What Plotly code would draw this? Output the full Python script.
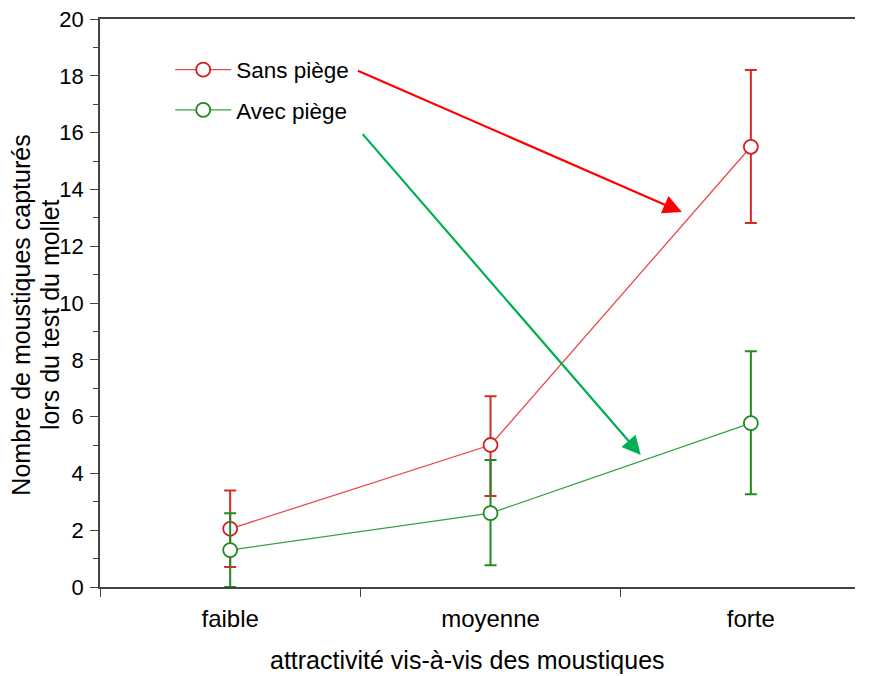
import plotly.graph_objects as go

categories = ["faible", "moyenne", "forte"]
sans_piege = [2.05, 5.0, 15.5]
sans_err_plus = [1.35, 1.72, 2.7]
sans_err_minus = [1.35, 1.8, 2.68]
avec_piege = [1.3, 2.6, 5.77]
avec_err_plus = [1.3, 1.87, 2.53]
avec_err_minus = [1.3, 1.83, 2.5]

y_title_lines = ["Nombre de moustiques capturés", "lors du test du mollet"]
x_title = "attractivité vis-à-vis des moustiques"

RED = "#e8494c"
RED_ERR = "#d42a2a"
GREEN = "#3aa040"
GREEN_ERR = "#238a23"
FONT = "Liberation Sans, Arial, sans-serif"

fig = go.Figure()
fig.add_trace(go.Scatter(
    x=categories, y=sans_piege, name="Sans piège", mode="lines+markers",
    line=dict(color=RED, width=1.3),
    marker=dict(symbol="circle", size=14, color="white", line=dict(color="#d42020", width=1.8)),
    error_y=dict(type="data", symmetric=False, array=sans_err_plus, arrayminus=sans_err_minus,
                 color=RED_ERR, thickness=2, width=6),
    legendgroup="a",
))
fig.add_trace(go.Scatter(
    x=categories, y=avec_piege, name="Avec piège", mode="lines+markers",
    line=dict(color=GREEN, width=1.3),
    marker=dict(symbol="circle", size=14, color="white", line=dict(color="#1f8a1f", width=1.8)),
    error_y=dict(type="data", symmetric=False, array=avec_err_plus, arrayminus=avec_err_minus,
                 color=GREEN_ERR, thickness=2, width=6),
    legendgroup="b",
))

# arrows (annotations)
fig.add_annotation(x=1.735, y=13.2, ax=0.485, ay=18.2, xref="x", yref="y", axref="x", ayref="y",
                   text="", showarrow=True, arrowhead=2, arrowsize=1.7, arrowwidth=2.2, arrowcolor="#ff0000")
fig.add_annotation(x=1.577, y=4.65, ax=0.504, ay=16.0, xref="x", yref="y", axref="x", ayref="y",
                   text="", showarrow=True, arrowhead=2, arrowsize=1.7, arrowwidth=2.2, arrowcolor="#00b050")

# axis titles
fig.add_annotation(text=y_title_lines[0], xref="paper", yref="paper", x=-0.105, y=0.479,
                   textangle=-90, showarrow=False, xanchor="center", yanchor="middle",
                   font=dict(size=25))
fig.add_annotation(text=y_title_lines[1], xref="paper", yref="paper", x=-0.066, y=0.479,
                   textangle=-90, showarrow=False, xanchor="center", yanchor="middle",
                   font=dict(size=25))
fig.add_annotation(text=x_title, xref="paper", yref="paper", x=0.487, y=-0.129,
                   showarrow=False, xanchor="center", yanchor="middle", font=dict(size=25))

fig.update_layout(
    width=872, height=676,
    margin=dict(l=92, r=25, t=11, b=97, autoexpand=False),
    paper_bgcolor="white", plot_bgcolor="white",
    font=dict(family=FONT, size=22, color="black"),
    showlegend=True,
    legend=dict(x=0.093, y=0.948, xanchor="left", yanchor="top", bgcolor="rgba(0,0,0,0)",
                font=dict(size=22.5), tracegroupgap=8, itemwidth=56),
    xaxis=dict(
        type="category", range=[-0.5, 2.4], tickson="boundaries", ticks="outside", ticklen=8,
        tickcolor="#444", showline=True, linecolor="#444", linewidth=1.5, mirror=True,
        showgrid=False, zeroline=False, tickfont=dict(size=24), ticklabelstandoff=9,
        automargin=False,
    ),
    yaxis=dict(
        range=[0, 20], tickmode="array", tickvals=list(range(0, 21, 2)), ticks="outside", ticklen=8,
        tickcolor="#444", showline=True, linecolor="#444", linewidth=1.5, showgrid=False,
        zeroline=False, tickfont=dict(size=22), ticklabelstandoff=2, automargin=False,
        ticklabeloverflow="allow",
        minor=dict(tickvals=list(range(1, 20, 2)), ticks="outside", ticklen=5, tickcolor="#444"),
    ),
)

fig.write_html("out.html")
